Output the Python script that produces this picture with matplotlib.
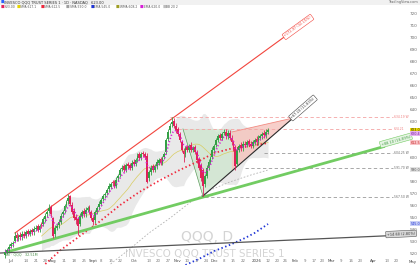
import numpy as np
import pandas as pd
import matplotlib
matplotlib.use("Agg")
import matplotlib.pyplot as plt
import matplotlib.transforms as mtransforms
from matplotlib.patches import Polygon, Rectangle

# ---------------- data (daily QQQ candles) ----------------
opens = [519,522,524,527,528,531,536,533,536,534, 537,535,539,537,540,538,541,543,540,545,
         545,549,553,556,559,550,537,542,544,547, 553,556,561,564,568,561,556,551,549,545,
         552,556,553,557,559,555,550,548,555,559, 562,566,569,571,574,576,580,580,577,583,
         586,591,593,590,595,594,592,597,595,599, 603,600,604,603,602,583,588,593,590,593,
         596,599,596,601,605,616,623,628,631,627, 624,620,613,606,603,609,607,611,607,609,
         605,599,594,590,578,585,592,597,601,607, 611,615,619,617,621,622,618,621,617,613,
         609,595,607,611,608,612,611,614,612,610, 613,616,613,617,618,621,619,622]
highs = [524,525,528,530,531,538,538,537,538,539, 539,540,541,541,542,543,544,545,545,547,
         551,554,557,562,561,551,544,546,549,554, 557,562,565,570,569,563,558,553,551,554,
         557,558,559,560,561,557,552,557,560,564, 567,570,572,575,579,580,582,582,584,587,
         592,594,595,596,597,596,598,599,600,604, 605,605,606,605,604,590,594,595,595,599,
         600,601,602,605,617,624,629,634,633,629, 626,622,615,608,610,611,612,613,610,611,
         607,601,596,592,587,594,599,602,609,612, 617,620,621,622,624,624,623,623,619,615,
         611,609,612,613,614,614,615,616,614,615, 617,618,619,620,622,623,624,625]
lows = [517,520,522,525,526,530,531,531,532,532, 533,533,535,535,536,536,539,538,538,542,
        543,547,551,554,551,533,534,540,542,545, 551,554,559,562,560,553,548,545,536,543,
        550,551,551,555,553,548,544,546,553,557, 560,564,567,569,572,574,577,575,575,581,
        584,589,588,588,591,590,590,593,593,597, 598,598,601,599,579,581,586,588,588,591,
        594,594,594,599,603,614,621,626,625,621, 618,613,605,597,601,605,605,605,605,603,
        596,590,581,568,576,583,590,595,599,605, 609,613,615,615,619,616,616,615,611,606,
        590,593,605,606,606,609,609,610,608,608, 611,611,611,615,616,617,617,620]
closes = [522,523,526,528,529,535,533,535,534,537, 535,538,537,539,538,541,542,540,543,544,
          549,552,555,558,553,535,542,543,547,552, 555,560,563,567,562,555,550,548,543,552,
          555,553,557,558,555,550,547,555,558,562, 565,568,570,573,577,578,579,577,582,585,
          590,592,590,594,593,592,596,595,598,602, 600,603,603,601,580,588,592,590,593,597,
          598,596,600,603,615,622,627,630,627,623, 620,615,607,603,608,607,610,607,608,605,
          598,592,583,577,585,592,597,600,607,610, 615,618,617,620,622,618,621,617,613,608,
          593,607,610,608,612,611,613,612,610,613, 615,613,617,618,620,619,622,623]

# slower moving averages (need history before the window)
sma50_idx = [21, 29, 39, 49, 60, 70, 81, 91, 102, 109, 117, 128, 137]
sma50_val = [511.7, 523.3, 535.0, 546.7, 560.8, 571.7, 581.7, 590.0, 598.3, 604.2, 607.5, 610.0, 612.5]
sma200_idx = [55, 65, 75, 86, 96, 107, 117, 128, 137]
sma200_val = [511.7, 524.2, 537.5, 550.0, 562.5, 573.3, 580.0, 585.8, 590.0]
blue_idx = [94, 102, 109, 117, 125, 130, 137]
blue_val = [510.8, 516.7, 522.5, 527.5, 533.3, 537.5, 545.0]

# drawn trend lines: (x0, x1), (y0, y1)
red_tl_x, red_tl_y = [5.2, 148.4], [537.5, 704.3]
wedge_tl_x, wedge_tl_y = [103.1, 151.6], [568.3, 635.5]
green_tl_x, green_tl_y = [1.0, 197.9], [521.7, 609.8]
gray_tl_x, gray_tl_y = [-2.6, 202.1], [520.8, 535.4]

# shaded patterns
green_tri_x = [92.7, 118.2, 118.2, 103.1]
green_tri_y = [624.2, 624.2, 589.2, 568.3]
pink_tri_x = [118.2, 150.0, 118.2]
pink_tri_y = [621.7, 633.3, 589.2]

# horizontal levels
level_vals = [634.2, 624.2, 604.2, 591.7, 567.5]
level_start = [86, 90, 135, 125, 101]
level_end = 202
level_labels = ["634.19 W", "624.21", "604.25 W", "591.70 W", "567.50 W"]
level_kind = ["pink", "pink", "gray", "gray", "gray"]

# x-axis tick labels (trading-day index)
tick_pos = [3, 11, 16, 21, 25, 31, 36, 41, 46, 50, 55, 60, 67, 75, 80, 85, 90, 95, 100, 105,
            109, 114, 119, 124, 131, 137, 142, 146, 151, 156, 161, 165, 170, 175, 180, 185,
            192, 199, 204]
tick_lab = ["Jul", "14", "21", "28", "Aug", "11", "18", "25", "Sept", "8", "15", "22", "Oct", "13",
            "20", "27", "Nov", "10", "17", "24", "Dec", "8", "15", "22", "2026", "12", "20",
            "26", "Feb", "9", "17", "23", "Mar", "9", "16", "23", "Apr", "13", "20"]
months = {"Jul", "Aug", "Sept", "Oct", "Nov", "Dec", "2026", "Feb", "Mar", "Apr"}

# legend row
leg_x = [1, 17, 41, 66, 91, 116, 140, 163]
leg_c = ["#e3245c", "#e6d400", "#f0283c", "#9e9e9e", "#1f35d6", "#9e9d24", "#d61fd6", "#bdbdbd"]
leg_t = ["623.00", "SMA 617.1", "SMA 612.5", "SMA 590.0", "EMA 545.0", "WMA 608.2",
         "EMA 620.0", "BB 20 2"]

# ---------------- styling ----------------
GREEN = "#34a046"
RED = "#e0225a"
W, H = 420, 265
fig = plt.figure(figsize=(W / 100, H / 100), dpi=100)
fig.patch.set_facecolor("white")
ax = fig.add_axes([0, 0, 408 / W, 255 / H])
ax.set_xlim(-2.604, 209.9)
ax.set_ylim(510.83, 723.33)
for sp in ax.spines.values():
    sp.set_visible(False)

x = np.arange(len(closes))
o = np.array(opens, float)
c = np.array(closes, float)
hi = np.array(highs, float)
lo = np.array(lows, float)

s = pd.Series(c)
mid = s.rolling(20).mean()
sd = s.rolling(20).std(ddof=0)
ema5 = s.ewm(span=5, adjust=False).mean()

# Bollinger cloud
ax.fill_between(x, mid + 2 * sd, mid - 2 * sd, color="#e9e9e9", lw=0, zorder=1)

# watermark
ax.text(0.507, 0.11, "QQQ, D", transform=ax.transAxes, ha="center", va="center",
        fontsize=10, color="#d4d4d4", zorder=0.5)
ax.text(0.503, 0.045, "INVESCO QQQ TRUST SERIES 1", transform=ax.transAxes, ha="center",
        va="center", fontsize=7.4, color="#d4d4d4", zorder=0.5)

# patterns
ax.add_patch(Polygon(list(zip(green_tri_x, green_tri_y)), closed=True, fc="#cde6cd",
                     ec="none", alpha=0.75, zorder=2))
ax.add_patch(Polygon(list(zip(pink_tri_x, pink_tri_y)), closed=True, fc="#f5c4bd",
                     ec="none", alpha=0.8, zorder=2))
ax.plot(green_tri_x[:1] + green_tri_x[3:], green_tri_y[:1] + green_tri_y[3:],
        color="#5f9e5f", lw=0.5, zorder=2.5)
ax.plot(pink_tri_x[:2], pink_tri_y[:2], color="#f28b82", lw=0.6, zorder=2.5)

# levels
for v, st, lab, kind in zip(level_vals, level_start, level_labels, level_kind):
    col = "#f4a3a3" if kind == "pink" else "#9a9a9a"
    tcol = "#ef7f7f" if kind == "pink" else "#666666"
    ax.plot([st, level_end], [v, v], color=col, lw=0.6, ls=(0, (4, 3)), zorder=2.6)
    ax.text(level_end + 0.5, v, lab, fontsize=2.2, color=tcol, va="center", ha="left",
            zorder=8, clip_on=False)

# moving averages
ax.plot(sma200_idx, sma200_val, color="#b3b3b3", lw=0.6, ls=(0, (2, 2)), zorder=3)
ax.plot(x, mid, color="#d9cd62", lw=0.5, zorder=3)
ax.plot(sma50_idx, sma50_val, color="#f0283c", lw=1.3, ls=(0, (0.8, 1.4)), zorder=4)
ax.plot(blue_idx, blue_val, color="#1f35d6", lw=1.3, ls=(0, (0.8, 1.4)), zorder=4)

# trend lines
ax.plot(red_tl_x, red_tl_y, color="#f2453d", lw=0.8, zorder=4)
ax.plot(green_tl_x, green_tl_y, color="#72cc62", lw=2.0, zorder=4, solid_capstyle="butt")
ax.plot(gray_tl_x, gray_tl_y, color="#555555", lw=0.9, zorder=4)
ax.plot(wedge_tl_x, wedge_tl_y, color="#2b2b2b", lw=0.8, zorder=4)

# candles
up = c >= o
cols = np.where(up, GREEN, RED)
ax.vlines(x, lo, hi, colors=cols, lw=0.6, zorder=5)
body = np.maximum(np.abs(c - o), 0.5)
ax.bar(x, body, bottom=np.minimum(o, c), width=0.95, color=cols, lw=0, zorder=6)

# fast EMA dots
ax.plot(x, ema5, color="#d61fd6", lw=1.2, ls=(0, (0.7, 1.3)), zorder=7)

# trend line labels
def tl_label(xx, yy, txt, rot, fc, ec, tc):
    ax.text(xx, yy, txt, rotation=rot, rotation_mode="anchor", ha="center", va="center",
            fontsize=2.5, color=tc, zorder=9, clip_on=False,
            bbox=dict(boxstyle="round,pad=0.35,rounding_size=0.2", fc=fc, ec=ec, lw=0.4))

tl_label(152.6, 709.2, "+172.97 (32.15%)", 36, "white", "#f2453d", "#f2453d")
tl_label(155.2, 641.7, "+67.20 (11.83%)", 41, "white", "#444444", "#333333")
tl_label(203.6, 614.6, "+88.10 (16.89%)", 15.6, "#e6f4e4", "#72cc62", "#3d9a3d")
tl_label(206.3, 536.7, "+14.60 (2.80%)", 2.6, "#d9d9d9", "#555555", "#333333")

# price tags on the right scale
trans = mtransforms.blended_transform_factory(ax.transAxes, ax.transData)
tags = [(c[-1], "#f2e000", "#222222"), (ema5.iloc[-1], "#e6b3ef", "#7b1fa2"),
        (mid.iloc[-1], "#dff0c8", "#4a7c2a"), (sma50_val[-1], "#f9c4c8", "#c62828"),
        (sma200_val[-1], "#e3e3e3", "#555555"), (blue_val[-1], "#c9cff5", "#1f35d6")]
for v, fc, tc in tags:
    ax.text(1.006, v, f"{v:.1f}", transform=trans, fontsize=2.4, color=tc, va="center",
            ha="left", zorder=20, clip_on=False,
            bbox=dict(boxstyle="square,pad=0.15", fc=fc, ec="none"))

# right price axis (scale labels hidden where a tag covers them)
tag_vals = [t[0] for t in tags]
yt = [v for v in np.arange(520, 721, 10) if min(abs(v - tv) for tv in tag_vals) > 4.5]
ax.yaxis.tick_right()
ax.set_yticks(yt)
ax.tick_params(axis="y", length=0, pad=1.5, labelsize=3, labelcolor="#6a6a6a")

# x axis labels inside bottom
ax.set_xticks(tick_pos)
ax.set_xticklabels(tick_lab)
ax.tick_params(axis="x", length=0, pad=-4.2, labelsize=2.8, labelcolor="#777777")
for t in ax.get_xticklabels():
    if t.get_text() in months:
        t.set_color("#444444")
ax.text(212.5, 511.5, "May", fontsize=2.8, color="#444444", ha="center", va="bottom",
        clip_on=False, zorder=9)

# header
fig.add_artist(Rectangle((0, 1 - 4.5 / H), 1, 4.5 / H, transform=fig.transFigure,
                         fc="#f1f1f1", ec="none", zorder=0))
fig.text(4 / W, 1 - 2.4 / H, "INVESCO QQQ TRUST SERIES 1 · 1D · NASDAQ   623.00",
         fontsize=2.6, color="#333333", va="center", ha="left")
fig.text(1 / W, 1 - 2.4 / H, "■", fontsize=2.6, color="#2962ff", va="center", ha="left")
fig.text(418 / W, 1 - 2.4 / H, "TradingView.com", fontsize=2.5, color="#666666",
         va="center", ha="right")
for lx, lc, lt in zip(leg_x, leg_c, leg_t):
    fig.text(lx / W, 1 - 6.6 / H, "■", fontsize=2.8, color=lc, va="center", ha="left")
    fig.text((lx + 3.5) / W, 1 - 6.6 / H, lt, fontsize=2.2, color="#555555", va="center",
             ha="left")

fig.text(5 / W, 1 - 254 / H, "Vol · QQQ   32.51M", fontsize=2.4,
         color="#4a8f4a", va="center", ha="left")

fig.savefig("out.png", dpi=100)
